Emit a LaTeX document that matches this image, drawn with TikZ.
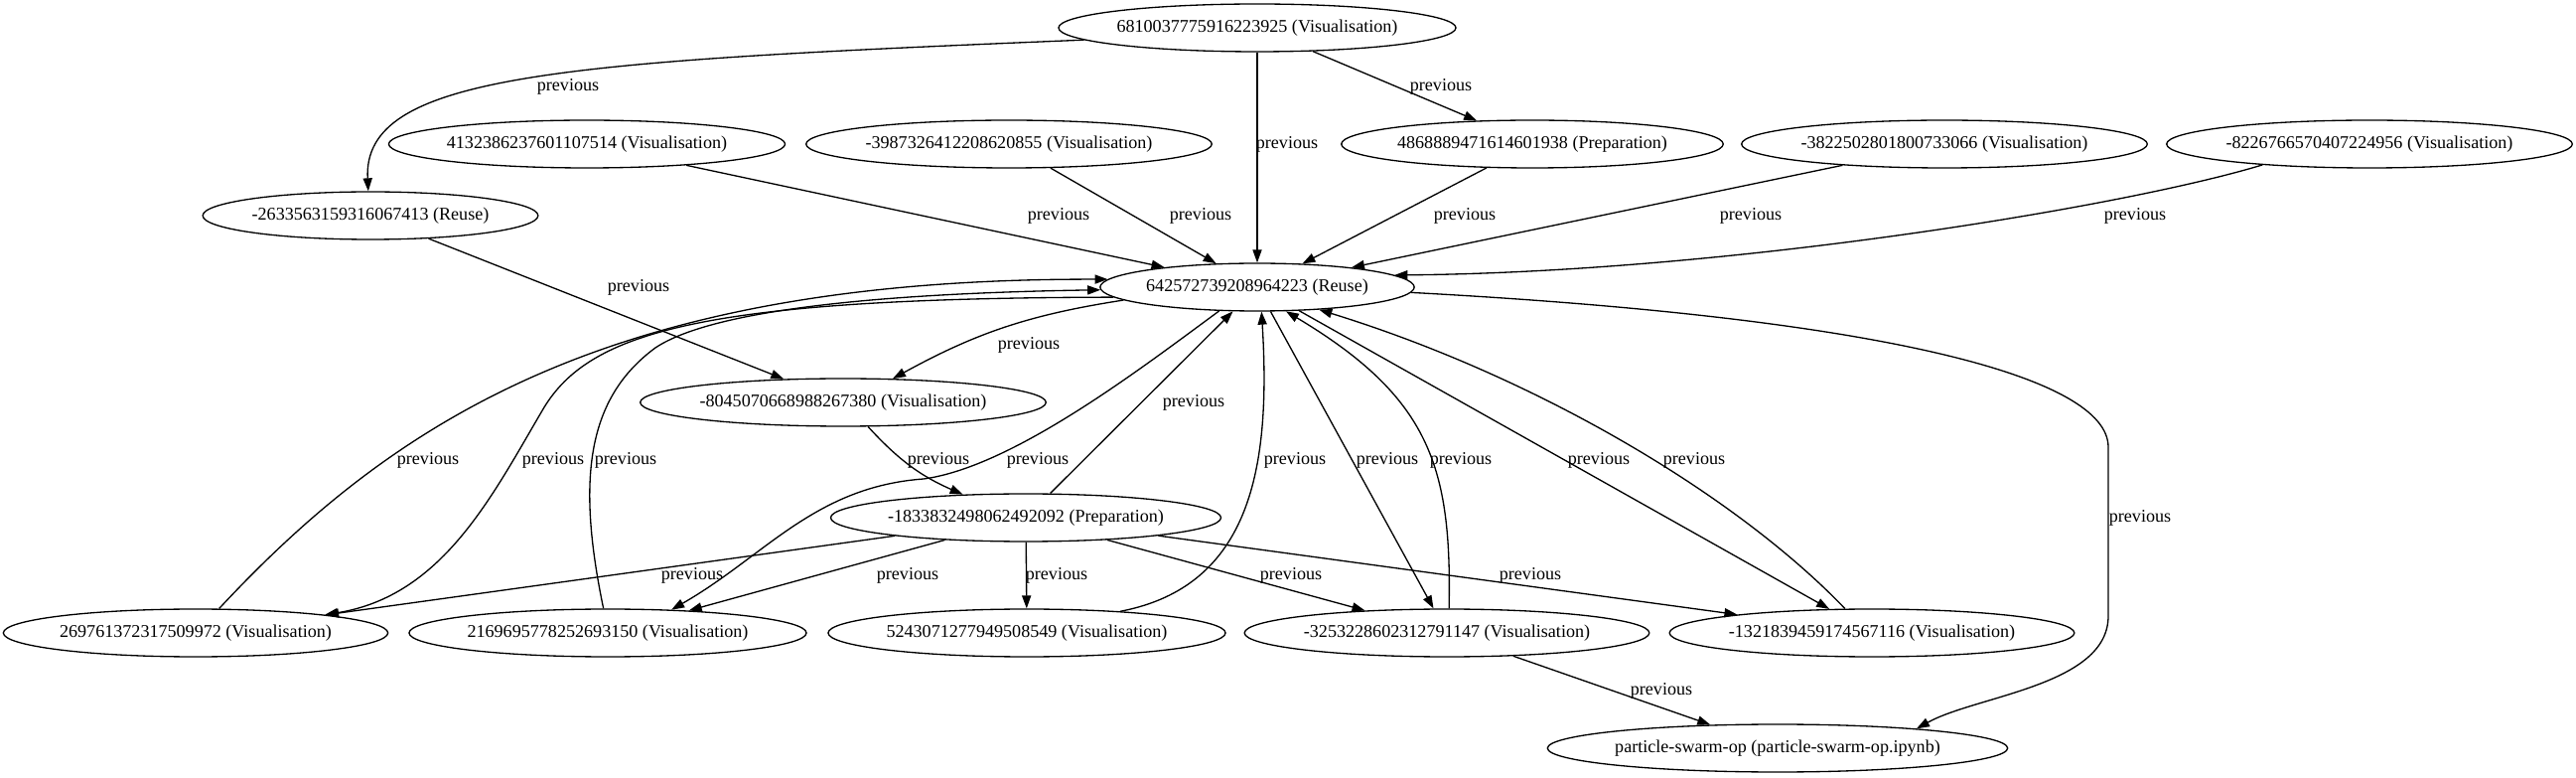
\documentclass[tikz,border=0pt]{standalone}
\usepackage{fontspec}
\setmainfont{Liberation Serif}
\usepackage{tikz}
\usetikzlibrary{shapes.geometric, arrows.meta}
\newcommand{\gvsize}{\fontsize{10.3pt}{12pt}\selectfont}

\begin{document}
\begin{tikzpicture}[x=0.02cm, y=-0.02cm,
    vert/.style={draw, ellipse, line width=0.75pt, inner sep=0pt,
                 minimum height=0.96cm, font=\gvsize},
    arr/.style={-{Triangle[length=7.4pt, width=5.2pt]}, line width=0.75pt},
    lbl/.style={font=\gvsize, inner sep=0pt}]
    \useasboundingbox (0,0) rectangle (2594,783);
    \node[vert] (v681) at (1266,28) {6810037775916223925 (Visualisation)};
    \node[vert] (v413) at (591,145) {4132386237601107514 (Visualisation)};
    \node[vert] (v398) at (1016,145) {-3987326412208620855 (Visualisation)};
    \node[vert] (p486) at (1543,145) {4868889471614601938 (Preparation)};
    \node[vert] (v382) at (1958,145) {-3822502801800733066 (Visualisation)};
    \node[vert] (v822) at (2386,145) {-8226766570407224956 (Visualisation)};
    \node[vert] (r263) at (373,217) {-2633563159316067413 (Reuse)};
    \node[vert] (r642) at (1266,289) {642572739208964223 (Reuse)};
    \node[vert] (v804) at (849,405) {-8045070668988267380 (Visualisation)};
    \node[vert] (p183) at (1033,521) {-1833832498062492092 (Preparation)};
    \node[vert] (v269) at (197,637) {269761372317509972 (Visualisation)};
    \node[vert] (v216) at (612,637) {2169695778252693150 (Visualisation)};
    \node[vert] (v524) at (1034,637) {5243071277949508549 (Visualisation)};
    \node[vert] (v325) at (1457,637) {-3253228602312791147 (Visualisation)};
    \node[vert] (v132) at (1885,637) {-1321839459174567116 (Visualisation)};
    \node[vert] (nb) at (1790,753) {particle-swarm-op (particle-swarm-op.ipynb)};

    \draw[arr] (v681.184) .. controls (560,62) and (365,75) .. (r263.95)
        node[lbl] (e1) at (572,87) {previous};
    \draw[arr] (v681) -- (r642) node[lbl] (e2) at (1296,145) {previous};
    \draw[arr] (v681) -- (p486) node[lbl] (e3) at (1451,87) {previous};
    \draw[arr] (v413) -- (r642) node[lbl] (e4) at (1066,217) {previous};
    \draw[arr] (v398) -- (r642) node[lbl] (e5) at (1209,217) {previous};
    \draw[arr] (p486) -- (r642) node[lbl] (e6) at (1475,217) {previous};
    \draw[arr] (v382) -- (r642) node[lbl] (e7) at (1763,217) {previous};
    \draw[arr] (v822.191) .. controls (2140,208) and (1740,274) .. (r642.5)
        node[lbl] (e8) at (2150,217) {previous};
    \draw[arr] (r263) -- (v804) node[lbl] (e9) at (643,289) {previous};
    \draw[arr] (r642) to[bend right=10] (v804) node[lbl] (e10) at (1036,347) {previous};
    \draw[arr] (v804) to[bend right=12] (p183) node[lbl] (e11) at (945,463) {previous};
    \draw[arr] (p183) -- (r642) node[lbl] (e12) at (1202,405) {previous};
    \draw[arr] (v269.46) .. controls (400,420) and (620,280) .. (r642.177)
        node[lbl] (e13) at (431,463) {previous};
    \draw[arr] (r642.184) .. controls (700,300) and (590,335) .. (545,415)
        .. controls (495,500) and (445,600) .. (v269.8)
        node[lbl] (e14) at (557,463) {previous};
    \draw[arr] (v216.100) .. controls (580,480) and (592,400) .. (660,350)
        .. controls (720,310) and (900,295) .. (r642.181)
        node[lbl] (e15) at (630,463) {previous};
    \draw[arr] (r642.212) .. controls (1150,370) and (1020,470) .. (930,482)
        .. controls (820,490) and (770,560) .. (v216.20)
        node[lbl] (e16) at (1045,463) {previous};
    \draw[arr] (v524.13) .. controls (1260,590) and (1280,470) .. (r642.280)
        node[lbl] (e17) at (1304,463) {previous};
    \draw[arr] (r642) -- (v325) node[lbl] (e18) at (1397,463) {previous};
    \draw[arr] (v325.85) .. controls (1462,470) and (1440,400) .. (r642.320)
        node[lbl] (e19) at (1471,463) {previous};
    \draw[arr] (r642) -- (v132) node[lbl] (e20) at (1610,463) {previous};
    \draw[arr] (v132.138) .. controls (1750,500) and (1550,380) .. (r642.340)
        node[lbl] (e21) at (1706,463) {previous};
    \draw[arr] (r642.358) .. controls (1900,320) and (2123,380) .. (2123,450)
        -- (2123,620) .. controls (2123,690) and (1990,700) .. (nb.8)
        node[lbl] (e22) at (2155,521) {previous};
    \draw[arr] (p183) -- (v269) node[lbl] (e23) at (697,579) {previous};
    \draw[arr] (p183) -- (v216) node[lbl] (e24) at (914,579) {previous};
    \draw[arr] (p183) -- (v524) node[lbl] (e25) at (1064,579) {previous};
    \draw[arr] (p183) -- (v325) node[lbl] (e26) at (1300,579) {previous};
    \draw[arr] (p183) -- (v132) node[lbl] (e27) at (1541,579) {previous};
    \draw[arr] (v325) -- (nb) node[lbl] (e28) at (1673,695) {previous};
  \end{tikzpicture}
\end{document}
